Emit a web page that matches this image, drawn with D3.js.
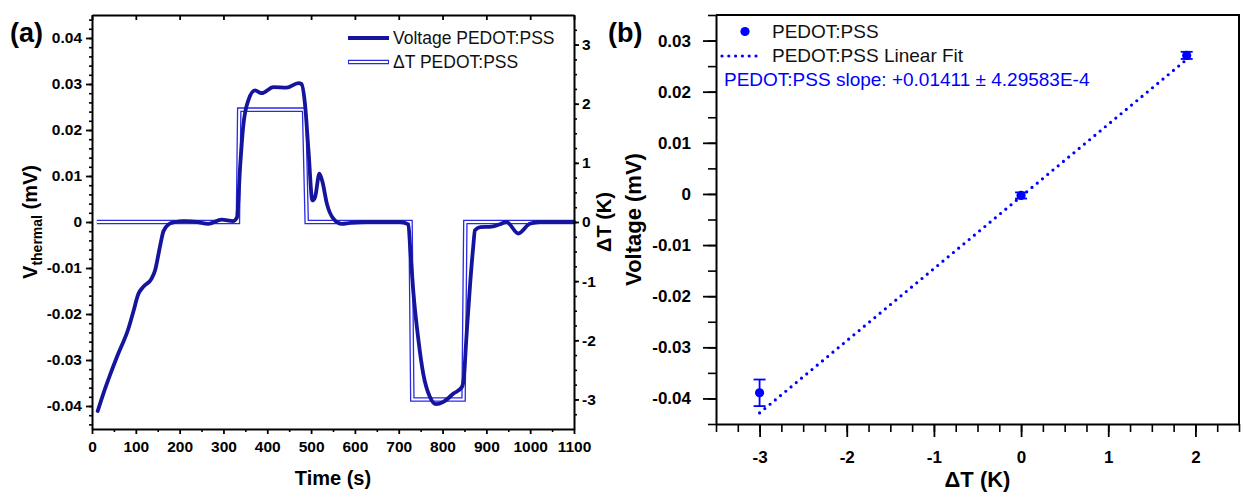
<!DOCTYPE html>
<html>
<head>
<meta charset="utf-8">
<script src="https://cdn.jsdelivr.net/npm/d3@7"></script>
<style>
  body { margin: 0; background: #fff; }
  svg { font-family: "Liberation Sans", Arial, sans-serif; }
</style>
</head>
<body>
<div id="wrapper"></div>
<script>
// Panel (a): voltage trace (mV) against time (s)
const voltTime = [13, 26, 41, 60, 83, 94, 106, 117, 136, 144, 155, 163, 175, 190, 210, 240, 265, 296, 322, 331,
    338, 345, 357, 372, 387, 414, 444, 471, 478, 486, 494, 503, 509, 519, 526, 536, 551, 570, 589, 627,
    703, 722, 726, 733, 745, 756, 771, 785, 802, 825, 844, 848, 855, 863, 870, 874, 886, 912, 931, 946,
    973, 999, 1022, 1100];
const voltValue = [-0.0411, -0.0373, -0.0333, -0.0286, -0.0232, -0.0196, -0.0156, -0.0141, -0.0123, -0.0105,
    -0.0054, -0.0020, -0.0005, 0.0000, 0.0002, 0.0000, -0.0004, 0.0005, 0.0002, 0.0010,
    0.0120, 0.0207, 0.0265, 0.0286, 0.0280, 0.0293, 0.0292, 0.0302, 0.0300, 0.0257,
    0.0156, 0.0047, 0.0054, 0.0105, 0.0087, 0.0040, 0.0007, -0.0004, -0.0002, 0.0000,
    0.0000, -0.0005, -0.0054, -0.0148, -0.0257, -0.0330, -0.0380, -0.0396, -0.0391, -0.0373,
    -0.0359, -0.0344, -0.0243, -0.0134, -0.0054, -0.0018, -0.0011, -0.0010, -0.0005, 0.0000,
    -0.0025, -0.0004, 0.0000, 0.0000];

// Panel (a): temperature difference (K) against time (s)
const dtTime = [11, 333, 336, 484, 490, 727, 731, 848, 852, 1100];
const dtValue = [0, 0, 1.9, 1.9, 0, 0, -3.0, -3.0, 0, 0];

const timeTicks = [0, 100, 200, 300, 400, 500, 600, 700, 800, 900, 1000, 1100];
const voltTicksA = [-0.04, -0.03, -0.02, -0.01, 0, 0.01, 0.02, 0.03, 0.04];
const dtTicksA = [-3, -2, -1, 0, 1, 2, 3];
const legendA = ["Voltage PEDOT:PSS", "\u0394T PEDOT:PSS"];

// Panel (b): voltage against deltaT with linear fit
const pointDeltaT = [-3, 0, 1.9];
const pointVoltage = [-0.0389, -0.0003, 0.0271];
const pointError = [0.0026, 0.0006, 0.0007];
const fitSlope = 0.01411;
const fitIntercept = -0.0005;
const deltaTTicksB = [-3, -2, -1, 0, 1, 2];
const voltTicksB = [-0.04, -0.03, -0.02, -0.01, 0, 0.01, 0.02, 0.03];
const legendB = ["PEDOT:PSS", "PEDOT:PSS Linear Fit"];
const slopeLabel = "PEDOT:PSS slope: +0.01411 \u00b1 4.29583E-4";

// Constants
const WIDTH = 1241;
const HEIGHT = 492;
const COLOR = {
    VOLT: "#14149c",
    DT: "#2a2ae6",
    FIT: "#0000ff",
    TEXT: "#111"
};

const boxA = { left: 92, right: 574, top: 15, bottom: 429 };
const boxB = { left: 716, right: 1239, top: 15, bottom: 424 };

const fmt = d => String(+d.toFixed(2));

function styleAxis(g, size) {
    g.attr("font-family", null).attr("font-size", null);
    g.selectAll("text")
        .attr("fill", "#000")
        .style("font-size", size + "px")
        .style("font-weight", "bold");
    g.selectAll("line").attr("stroke", "#000").attr("stroke-width", 1.8);
    g.select(".domain").attr("stroke", "#000").attr("stroke-width", 2);
}

// axisFn is d3.axisBottom / axisLeft / ..., drawn once for minor ticks and once for major ticks
function addAxis(svg, translate, axisFn, scale, majorTicks, minorTicks, majorLen, minorLen, pad, size, format) {
    if (minorTicks) {
        const gm = svg.append("g")
            .attr("transform", translate)
            .call(axisFn(scale).tickValues(minorTicks).tickSize(minorLen).tickFormat(""));
        gm.select(".domain").remove();
        gm.selectAll("line").attr("stroke", "#000").attr("stroke-width", 1.6);
    }
    const g = svg.append("g")
        .attr("transform", translate)
        .call(axisFn(scale)
            .tickValues(majorTicks)
            .tickSizeInner(majorLen)
            .tickSizeOuter(0)
            .tickPadding(pad)
            .tickFormat(format || (() => "")));
    styleAxis(g, size);
    return g;
}

function drawChart() {
    const svg = d3.select("#wrapper")
        .append("svg")
        .attr("width", WIDTH)
        .attr("height", HEIGHT);

    // ---------- Panel (a) ----------
    const xA = d3.scaleLinear().domain([0, 1100]).range([boxA.left, boxA.right]);
    const yA = d3.scaleLinear().domain([-0.045, 0.045]).range([boxA.bottom, boxA.top]);
    const yA2 = d3.scaleLinear().domain([-3.5, 3.5]).range([boxA.bottom, boxA.top]);

    const dtData = dtTime.map((t, i) => [t, dtValue[i]]);
    const voltData = voltTime.map((t, i) => [t, voltValue[i]]);

    const dtLine = d3.line().x(d => xA(d[0])).y(d => yA2(d[1]));
    const voltLine = d3.line().x(d => xA(d[0])).y(d => yA(d[1])).curve(d3.curveMonotoneX);

    // hollow deltaT line: wide blue stroke with a thin white core
    svg.append("path").datum(dtData).attr("d", dtLine)
        .attr("fill", "none").attr("stroke", COLOR.DT).attr("stroke-width", 4.6);
    svg.append("path").datum(dtData).attr("d", dtLine)
        .attr("fill", "none").attr("stroke", "#fff").attr("stroke-width", 2);

    svg.append("path").datum(voltData).attr("d", voltLine)
        .attr("fill", "none").attr("stroke", COLOR.VOLT).attr("stroke-width", 3.8)
        .attr("stroke-linejoin", "round").attr("stroke-linecap", "round");

    // axes
    addAxis(svg, `translate(0,${boxA.bottom})`, d3.axisBottom, xA, timeTicks,
        d3.range(50, 1100, 100), 5, 3, 7, 15.5, d => d);
    addAxis(svg, `translate(0,${boxA.top})`, d3.axisTop, xA, timeTicks, null, -5, 0, 0, 15.5, null);
    addAxis(svg, `translate(${boxA.left},0)`, d3.axisLeft, yA, voltTicksA,
        d3.range(-0.044, 0.0441, 0.002), 6, 3, 4, 15.5, fmt);
    addAxis(svg, `translate(${boxA.right},0)`, d3.axisRight, yA2, dtTicksA,
        d3.range(-3.25, 3.3, 0.25), 5, 3, 3, 15.5, d => d);

    // titles
    svg.append("text")
        .attr("x", (boxA.left + boxA.right) / 2).attr("y", 485)
        .attr("text-anchor", "middle").attr("font-size", 20).attr("font-weight", "bold")
        .text("Time (s)");

    const yTitle = svg.append("text")
        .attr("transform", `translate(37,${(boxA.top + boxA.bottom) / 2}) rotate(-90)`)
        .attr("text-anchor", "middle").attr("font-size", 20).attr("font-weight", "bold");
    yTitle.append("tspan").text("V");
    yTitle.append("tspan").attr("font-size", 14).attr("dy", 5).text("thermal");
    yTitle.append("tspan").attr("dy", -5).text(" (mV)");

    svg.append("text")
        .attr("transform", `translate(611,${(boxA.top + boxA.bottom) / 2}) rotate(-90)`)
        .attr("text-anchor", "middle").attr("font-size", 20).attr("font-weight", "bold")
        .text("\u0394T (K)");

    svg.append("text").attr("x", 10).attr("y", 42)
        .attr("font-size", 27).attr("font-weight", "bold").text("(a)");

    // legend (a)
    const legA = svg.append("g");
    legA.append("line").attr("x1", 348).attr("x2", 389).attr("y1", 38).attr("y2", 38)
        .attr("stroke", COLOR.VOLT).attr("stroke-width", 3.8);
    legA.append("line").attr("x1", 348).attr("x2", 389).attr("y1", 62).attr("y2", 62)
        .attr("stroke", COLOR.DT).attr("stroke-width", 4.6);
    legA.append("line").attr("x1", 349).attr("x2", 388).attr("y1", 62).attr("y2", 62)
        .attr("stroke", "#fff").attr("stroke-width", 2);
    legA.selectAll("text.leg").data(legendA).join("text")
        .attr("class", "leg")
        .attr("x", 393).attr("y", (d, i) => 44 + i * 24)
        .attr("font-size", 17.5).attr("fill", COLOR.TEXT)
        .text(d => d);

    // ---------- Panel (b) ----------
    const xB = d3.scaleLinear().domain([-3.5, 2.5]).range([boxB.left, boxB.right]);
    const yB = d3.scaleLinear().domain([-0.045, 0.035]).range([boxB.bottom, boxB.top]);

    // frame top / right
    svg.append("path")
        .attr("d", `M${boxB.left},${boxB.top}H${boxB.right}V${boxB.bottom}`)
        .attr("fill", "none").attr("stroke", "#000").attr("stroke-width", 2);

    addAxis(svg, `translate(0,${boxB.bottom})`, d3.axisBottom, xB, deltaTTicksB,
        d3.range(-3.5, 2.51, 0.25), 13, 8, 14, 17, d => d);
    addAxis(svg, `translate(${boxB.left},0)`, d3.axisLeft, yB, voltTicksB,
        d3.range(-0.045, 0.0351, 0.005), 13, 8, 12, 17, fmt);

    // linear fit
    const fitX = [d3.min(pointDeltaT), d3.max(pointDeltaT)];
    svg.append("path")
        .datum(fitX)
        .attr("d", d3.line().x(d => xB(d)).y(d => yB(fitSlope * d + fitIntercept)))
        .attr("fill", "none").attr("stroke", COLOR.FIT).attr("stroke-width", 3.2)
        .attr("stroke-linecap", "round").attr("stroke-dasharray", "0 6.8");

    // points with error bars
    const pts = pointDeltaT.map((x, i) => ({ x, y: pointVoltage[i], e: pointError[i] }));
    const pg = svg.append("g").attr("stroke", COLOR.FIT).attr("stroke-width", 1.8);
    pg.selectAll("line.v").data(pts).join("line").attr("class", "v")
        .attr("x1", d => xB(d.x)).attr("x2", d => xB(d.x))
        .attr("y1", d => yB(d.y - d.e)).attr("y2", d => yB(d.y + d.e));
    ["lo", "hi"].forEach((k, j) => {
        pg.selectAll("line." + k).data(pts).join("line").attr("class", k)
            .attr("x1", d => xB(d.x) - 6).attr("x2", d => xB(d.x) + 6)
            .attr("y1", d => yB(d.y + (j ? d.e : -d.e)))
            .attr("y2", d => yB(d.y + (j ? d.e : -d.e)));
    });
    svg.selectAll("circle.pt").data(pts).join("circle").attr("class", "pt")
        .attr("cx", d => xB(d.x)).attr("cy", d => yB(d.y)).attr("r", 4.6)
        .attr("fill", COLOR.FIT);

    // titles
    svg.append("text")
        .attr("x", (boxB.left + boxB.right) / 2).attr("y", 487)
        .attr("text-anchor", "middle").attr("font-size", 22).attr("font-weight", "bold")
        .text("\u0394T (K)");
    svg.append("text")
        .attr("transform", `translate(641,${(boxB.top + boxB.bottom) / 2}) rotate(-90)`)
        .attr("text-anchor", "middle").attr("font-size", 22).attr("font-weight", "bold")
        .text("Voltage (mV)");
    svg.append("text").attr("x", 608).attr("y", 42)
        .attr("font-size", 27).attr("font-weight", "bold").text("(b)");

    // legend (b)
    svg.append("circle").attr("cx", 745).attr("cy", 31.5).attr("r", 4.6).attr("fill", COLOR.FIT);
    svg.append("line").attr("x1", 722).attr("x2", 760).attr("y1", 56).attr("y2", 56)
        .attr("stroke", COLOR.FIT).attr("stroke-width", 3.2)
        .attr("stroke-linecap", "round").attr("stroke-dasharray", "0 6.8");
    svg.selectAll("text.legb").data(legendB).join("text").attr("class", "legb")
        .attr("x", 772).attr("y", (d, i) => 38 + i * 24)
        .attr("font-size", 19).attr("fill", COLOR.TEXT)
        .text(d => d);
    svg.append("text").attr("x", 724).attr("y", 86)
        .attr("font-size", 19).attr("fill", COLOR.FIT)
        .text(slopeLabel);
}

drawChart();
</script>
</body>
</html>
